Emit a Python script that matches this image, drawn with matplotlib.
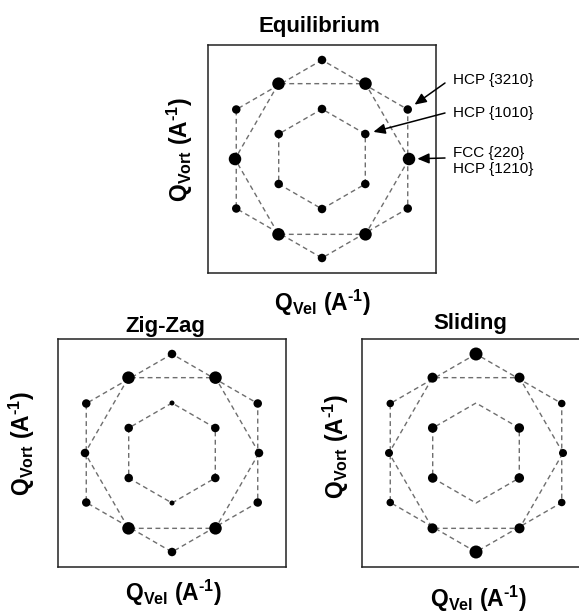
import numpy as np
import matplotlib.pyplot as plt

plt.rcParams['font.family'] = ['Liberation Sans', 'DejaVu Sans']
plt.rcParams['mathtext.fontset'] = 'custom'
plt.rcParams['mathtext.rm'] = 'Liberation Sans'
plt.rcParams['mathtext.it'] = 'Liberation Sans:italic'
plt.rcParams['mathtext.bf'] = 'Liberation Sans:bold'

# -----------------------------
# Diffraction spots (reciprocal space, units of inner ring radius)
# -----------------------------
ring_radii = [1.0, 1.74, 1.98]           # inner, middle, outer hexagon
inner_angles = [90, 150, 210, 270, 330, 30]
middle_angles = [0, 60, 120, 180, 240, 300]
outer_angles = [90, 150, 210, 270, 330, 30]

panel_titles = ["Equilibrium", "Zig-Zag", "Sliding"]

# spot intensity shown as dot diameter (px), same order as the angle lists
eq_inner = [8.5, 8.5, 8.5, 8.5, 8.5, 8.5]
eq_middle = [12.5, 12.5, 12.5, 12.5, 12.5, 12.5]
eq_outer = [8.5, 8.5, 8.5, 8.5, 8.5, 8.5]

zz_inner = [5, 8.5, 8.5, 5, 8.5, 8.5]
zz_middle = [8.5, 12.5, 12.5, 8.5, 12.5, 12.5]
zz_outer = [8.5, 8.5, 8.5, 8.5, 8.5, 8.5]

sl_inner = [0, 9.5, 9.5, 0, 9.5, 9.5]
sl_middle = [8, 10, 10, 8, 10, 10]
sl_outer = [13, 7.5, 7.5, 13, 7.5, 7.5]

peak_labels = ["HCP {3210}", "HCP {1010}", "FCC {220}\nHCP {1210}"]
# (ring index, angle) of the spot each label points at
peak_targets = [(2, 30), (0, 30), (1, 0)]

# -----------------------------
# Layout helpers (image pixels, top-left origin)
# -----------------------------
W, H = 579, 613


def fx(x):
    return x / W


def fy(y):
    return 1 - y / H


def box(left, top, right, bottom):
    return [fx(left), fy(bottom), (right - left) / W, (bottom - top) / H]


fig = plt.figure(figsize=(W / 100, H / 100), dpi=100)

panels = [
    (box(208, 45, 436, 273), [eq_inner, eq_middle, eq_outer]),
    (box(58, 339, 286, 567), [zz_inner, zz_middle, zz_outer]),
    (box(362, 339, 590, 567), [sl_inner, sl_middle, sl_outer]),
]
ring_angles = [inner_angles, middle_angles, outer_angles]

axes = []
for pos, sizes in panels:
    ax = fig.add_axes(pos)
    for r, angs, sz in zip(ring_radii, ring_angles, sizes):
        a = np.deg2rad(angs + angs[:1])
        ax.plot(r * np.cos(a), r * np.sin(a), ls=(0, (3.5, 2.5)), lw=1.0,
                color='#6e6e6e', zorder=1)
        a = np.deg2rad(angs)
        s = (np.array(sz) * 72 / 100) ** 2
        ax.scatter(r * np.cos(a), r * np.sin(a), s=s, color='black',
                   linewidths=0, zorder=3)
    ax.set_xlim(-2.28, 2.28)
    ax.set_ylim(-2.28, 2.28)
    ax.set_xticks([])
    ax.set_yticks([])
    for sp in ax.spines.values():
        sp.set_linewidth(1.1)
        sp.set_color('#222222')
    axes.append(ax)

# -----------------------------
# Titles and axis labels
# -----------------------------
xlab = r'Q$_{\mathbf{Vel}}$ (A$^{\mathbf{‐1}}$)'
ylab = r'Q$_{\mathbf{Vort}}$ (A$^{\mathbf{‐1}}$)'

fig.text(fx(319), fy(32), panel_titles[0], ha='center', va='baseline',
         fontsize=16, fontweight='bold')
fig.text(fx(165), fy(332), panel_titles[1], ha='center', va='baseline',
         fontsize=16, fontweight='bold')
fig.text(fx(470), fy(329), panel_titles[2], ha='center', va='baseline',
         fontsize=16, fontweight='bold')

for x, y in [(322, 303), (173, 593), (478, 599)]:
    fig.text(fx(x), fy(y), xlab, ha='center', va='center', fontsize=16.5,
             fontweight='bold')
for x, y in [(180, 150), (22, 444), (336, 447)]:
    fig.text(fx(x), fy(y), ylab, ha='center', va='center', fontsize=16.5,
             fontweight='bold', rotation=90)

# -----------------------------
# Peak annotations (top panel)
# -----------------------------
ax = axes[0]
text_y = [80, 113, 161]
tail_y = [83, 113, 158]
for lab, (ri, ang), ty, tl in zip(peak_labels, peak_targets, text_y, tail_y):
    r = ring_radii[ri]
    t = np.deg2rad(ang)
    ax.annotate('', xy=(r * np.cos(t), r * np.sin(t)), xycoords='data',
                xytext=(445, H - tl), textcoords='figure pixels',
                arrowprops=dict(arrowstyle='-|>,head_length=0.5,head_width=0.22',
                                mutation_scale=14, lw=1.1, color='black',
                                shrinkA=0, shrinkB=6),
                annotation_clip=False)
    fig.text(fx(453), fy(ty), lab, ha='left', va='center', fontsize=11,
             linespacing=1.15)

fig.savefig("out.png", dpi=100)
